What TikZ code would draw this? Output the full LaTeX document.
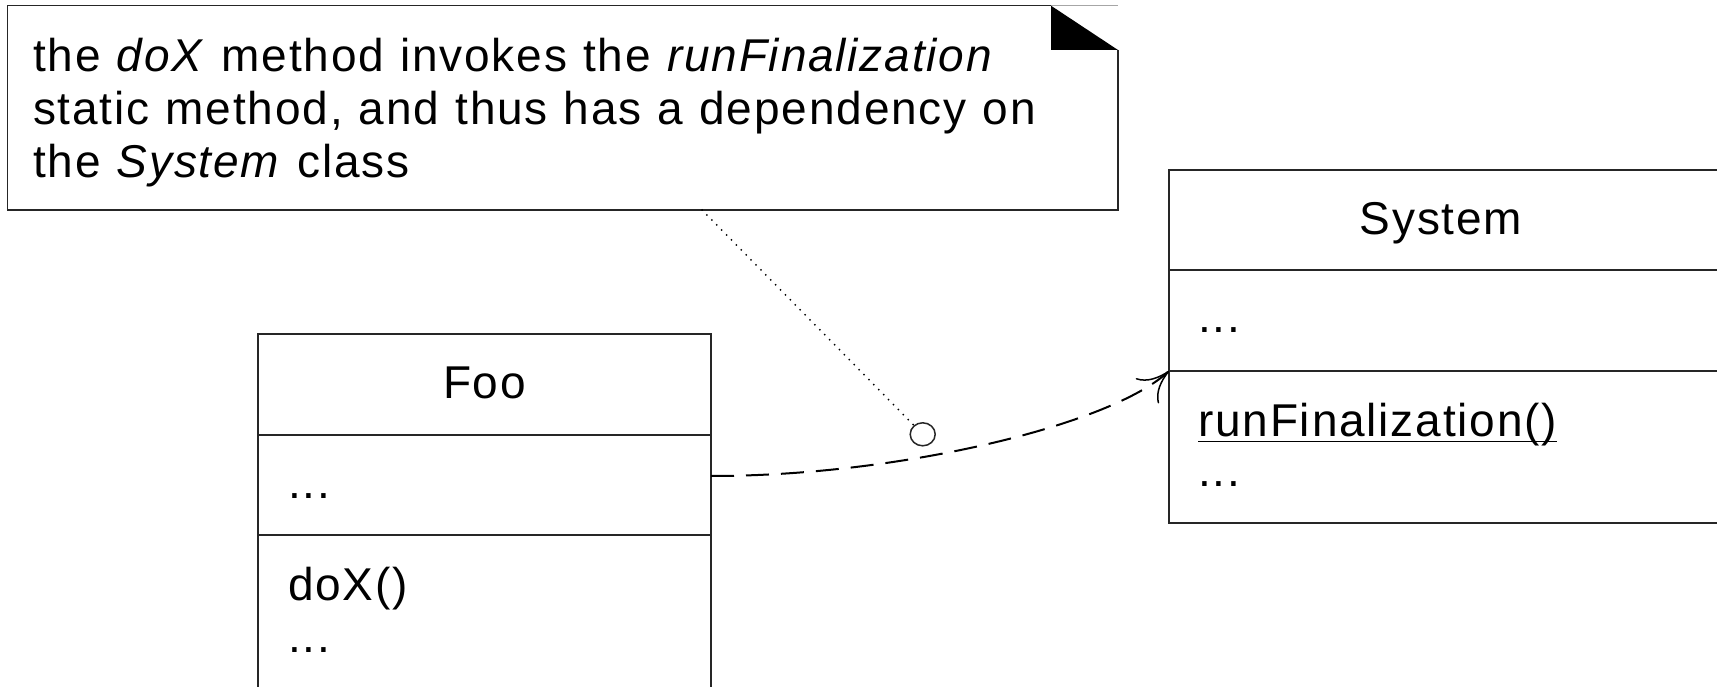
\documentclass[tikz,border=0pt]{standalone}
\usepackage{fontspec}
\setmainfont[LetterSpace=4,WordSpace=1.1]{Liberation Sans}
\usetikzlibrary{arrows.meta,calc,shapes.geometric}
\begin{document}
\begin{tikzpicture}[x=1pt,y=-1pt,
  every node/.style={inner sep=0pt, outer sep=0pt},
  txt/.style={font=\fontsize{46}{53}\selectfont},
  border/.style={draw=black!85, line width=1.6pt},
  classbox/.style={border, rectangle, anchor=north west},
  divider/.style={draw=black!85, line width=1.6pt},
  depline/.style={line width=2pt, dash pattern=on 23pt off 12pt,
    -{Computer Modern Rightarrow[length=30pt,width=34pt,line width=1.5pt]}},
  noteline/.style={line width=2pt, line cap=round, dash pattern=on 0pt off 7pt},
]
\clip (0,0) rectangle (1717,687);
\fill[white] (0,0) rectangle (1717,687);

% note with folded corner
\draw[border] (1051,5.7) -- (7.5,5.7) -- (7.5,210) -- (1118,210) -- (1118,50);
\draw[draw=black!35, line width=1.2pt] (1051,5.7) -- (1118,5.7);
\fill[black] (1051,5.7) -- (1051,50) -- (1118,50) -- cycle;
\node[txt, anchor=base west] (note1) at (33,72) {the \textit{doX} method invokes the \textit{runFinalization}};
\node[txt, anchor=base west] (note2) at (33,125) {static method, and thus has a dependency on};
\node[txt, anchor=base west] (note3) at (33,178) {the \textit{System} class};
\coordinate (notefoot) at (702,210);

% class Foo
\node[classbox, minimum width=453pt, minimum height=430pt] (foo) at (258,334) {};
\draw[divider] ($(foo.north west)+(0,101)$) -- ($(foo.north east)+(0,101)$);
\draw[divider] ($(foo.north west)+(0,201)$) -- ($(foo.north east)+(0,201)$);
\node[txt, anchor=base] (fooname) at (484.5,398) {Foo};
\node[txt, anchor=base west] (fooattr) at (288,498) {...};
\node[txt, anchor=base west] (fooop) at (288,600) {doX()};
\node[txt, anchor=base west] (foomore) at (288,652) {...};

% class System
\node[classbox, minimum width=600pt, minimum height=353pt] (system) at (1169,170) {};
\draw[divider] ($(system.north west)+(0,100)$) -- ($(system.north east)+(0,100)$);
\draw[divider] ($(system.north west)+(0,201)$) -- ($(system.north east)+(0,201)$);
\node[txt, anchor=base] (sysname) at (1441,235) {System};
\node[txt, anchor=base west] (sysattr) at (1198,332) {...};
\node[txt, anchor=base west] (sysop) at (1198,436) {runFinalization()};
\draw[line width=1.5pt] ([yshift=-5.5pt]sysop.base west) -- ([yshift=-5.5pt]sysop.base east);
\node[txt, anchor=base west] (sysmore) at (1198,486) {...};

% dependency
\coordinate (depstart) at ($(foo.north east)+(0,142)$);
\coordinate (depend) at ($(system.north west)+(0,201)$);
\draw[depline] (depstart) .. controls (900,476) and (1110,425) .. (depend);

% note attachment
\node[draw=black!85, line width=1.5pt, ellipse, minimum width=25pt, minimum height=23pt] (knob) at (922.7,434.3) {};
\draw[noteline] (notefoot) -- (knob);
\end{tikzpicture}
\end{document}
